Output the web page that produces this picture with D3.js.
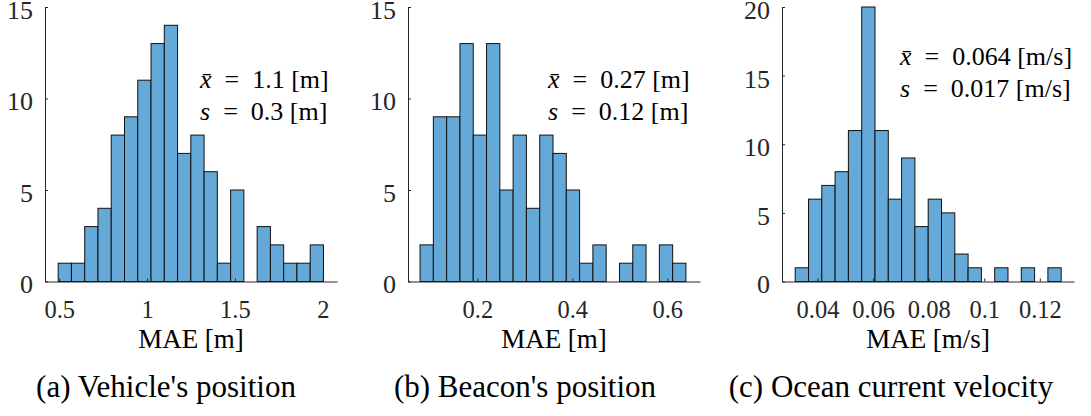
<!DOCTYPE html>
<html>
<head>
<meta charset="utf-8">
<script src="https://cdn.jsdelivr.net/npm/d3@7"></script>
<style>
  body { margin: 0; background: #fff; }
</style>
</head>
<body>
<script>
// histogram counts (20 bins each)
const countsA = [1, 1, 3, 4, 8, 9, 11, 13, 14, 7, 8, 6, 1, 5, 0, 3, 2, 1, 1, 2];
const countsB = [2, 9, 9, 13, 8, 13, 5, 8, 4, 8, 7, 5, 1, 2, 0, 1, 2, 0, 2, 1];
const countsC = [1, 6, 7, 8, 11, 20, 11, 6, 9, 4, 6, 5, 2, 1, 0, 1, 0, 1, 0, 1];

// first bin edge and bin width of each histogram
const binStarts = [0.494, 0.0794, 0.03195];
const binWidths = [0.0755, 0.028, 0.004787];

const xLims = [[0.419, 2.081], [0.054, 0.669], [0.0272, 0.1323]];
const yMaxes = [15, 15, 20];

const xTicksA = [0.5, 1, 1.5, 2];
const xTicksB = [0.2, 0.4, 0.6];
const xTicksC = [0.04, 0.06, 0.08, 0.1, 0.12];
const yTicksA = [0, 5, 10, 15];
const yTicksB = [0, 5, 10, 15];
const yTicksC = [0, 5, 10, 15, 20];

const xLabels = ["MAE [m]", "MAE [m]", "MAE [m/s]"];
const captions = ["(a) Vehicle's position", "(b) Beacon's position", "(c) Ocean current velocity"];
const means = ["1.1", "0.27", "0.064"];
const stds = ["0.3", "0.12", "0.017"];
const units = ["[m]", "[m]", "[m/s]"];

const width = 1091, height = 416;
const barFill = "#64a9d7", axisCol = "#262626";
const fam = '"Liberation Serif"';

// warm up font lookup through canvas before any svg text is drawn
const fontsToTouch = ["Liberation Serif", "DejaVu Serif", "Tinos", "Times New Roman", "Times"];
const ctx = document.createElement("canvas").getContext("2d");
fontsToTouch.forEach(f => { ctx.font = `40px "${f}", monospace`; ctx.measureText("MAE Vehicle position 0.123"); });

// layout of the three panels
const left = [45, 408, 782];
const plotW = 292, plotTop = 7, plotBottom = 281.5;
const noteX = [200, 548, 900];
const noteY = [88, 88, 65];
const capX = [166, 525, 891];

const panels = [
  {counts: countsA, xt: xTicksA, yt: yTicksA},
  {counts: countsB, xt: xTicksB, yt: yTicksB},
  {counts: countsC, xt: xTicksC, yt: yTicksC}
];

const svg = d3.select("body").append("svg").attr("width", width).attr("height", height);

panels.forEach((p, k) => {
  const x = d3.scaleLinear().domain(xLims[k]).range([left[k], left[k] + plotW]);
  const y = d3.scaleLinear().domain([0, yMaxes[k]]).range([plotBottom, plotTop]);
  const g = svg.append("g");

  const bins = p.counts.map((c, i) => ({
    x0: binStarts[k] + i * binWidths[k],
    x1: binStarts[k] + (i + 1) * binWidths[k],
    c: c
  })).filter(b => b.c > 0);

  g.selectAll("rect").data(bins).enter().append("rect")
    .attr("x", b => x(b.x0))
    .attr("width", b => x(b.x1) - x(b.x0))
    .attr("y", b => y(b.c))
    .attr("height", b => y(0) - y(b.c))
    .attr("fill", barFill)
    .attr("stroke", "#111")
    .attr("stroke-width", 1);

  // x axis, ticks pointing inward like matlab
  const xa = g.append("g").attr("transform", `translate(0,${plotBottom})`)
    .call(d3.axisBottom(x).tickValues(p.xt).tickFormat(d => String(d)).tickSizeInner(-3).tickSizeOuter(0));
  xa.selectAll("text").attr("y", 36.5).attr("dy", null)
    .style("font-size", "24.5px").style("font-family", fam);

  const ya = g.append("g").attr("transform", `translate(${left[k]},0)`)
    .call(d3.axisLeft(y).tickValues(p.yt).tickSizeInner(-3).tickSizeOuter(0).tickPadding(12));
  ya.selectAll("text").attr("dy", "0.44em")
    .style("font-size", "26px").style("font-family", fam);

  g.selectAll(".domain, .tick line").attr("stroke", axisCol);
  g.selectAll(".tick text").attr("fill", axisCol);

  g.append("text")
    .attr("x", left[k] + plotW / 2).attr("y", 348)
    .attr("text-anchor", "middle")
    .style("font-size", "27px").style("font-family", fam)
    .text(xLabels[k]);

  // mean / std note
  const note = g.append("text").attr("x", noteX[k]).attr("y", noteY[k])
    .style("font-size", "26px").style("font-family", fam);
  note.append("tspan").style("font-style", "italic").text("x\u0304");
  note.append("tspan").text(`\u2002=\u2002${means[k]} ${units[k]}`);
  const note2 = g.append("text").attr("x", noteX[k]).attr("y", noteY[k] + 32)
    .style("font-size", "26px").style("font-family", fam);
  note2.append("tspan").style("font-style", "italic").text("s");
  note2.append("tspan").text(`\u2002=\u2002${stds[k]} ${units[k]}`);

  svg.append("text")
    .attr("x", capX[k]).attr("y", 397)
    .attr("text-anchor", "middle")
    .style("font-size", "31px").style("font-family", fam)
    .text(captions[k]);
});
</script>
</body>
</html>
